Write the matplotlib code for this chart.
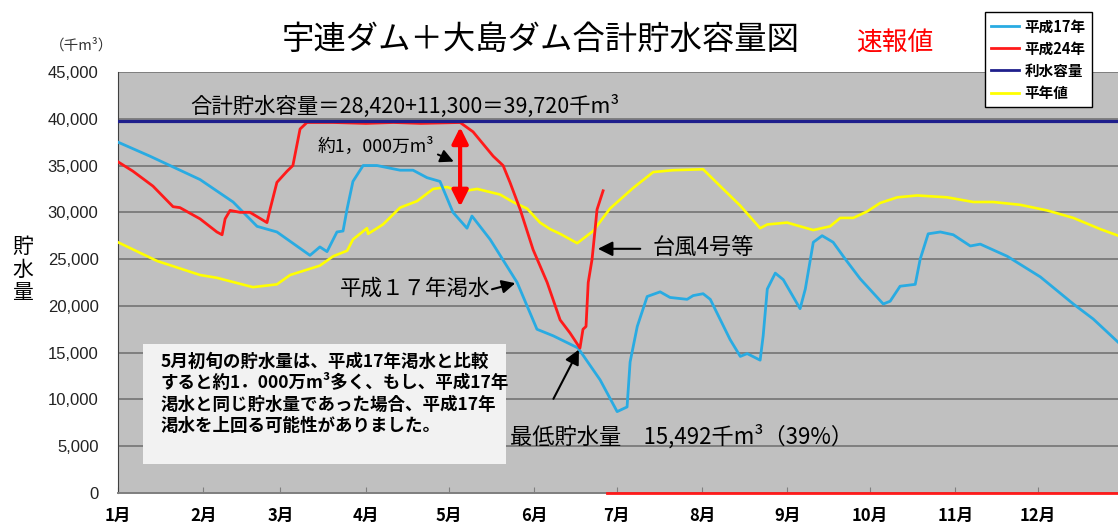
import numpy as np
import matplotlib
matplotlib.use("Agg")
import matplotlib.pyplot as plt
from matplotlib.lines import Line2D
from matplotlib.patches import Rectangle
from matplotlib.ticker import FuncFormatter

plt.rcParams['font.family'] = ['Noto Sans CJK JP', 'DejaVu Sans']

# ----------------- データ (日: 1月1日=0, 値: 千m3) -----------------
h17_days = [0, 11.6, 29.8, 41.8, 50.5, 57.7, 69.7, 73.3, 75.9, 79.5, 81.7, 83.2, 85.3, 89.0,
            94.0, 102.4, 107.1, 112.2, 116.9, 121.6, 126.7, 128.5, 135.1, 144.9, 152.1, 158.0,
            167.0, 175.0, 181.2, 184.8, 185.9, 188.5, 192.1, 196.8, 200.4, 206.6, 208.8, 212.4,
            215.0, 222.2, 225.9, 228.4, 233.1, 234.2, 235.7, 238.6, 241.5, 247.6, 249.5, 252.4,
            255.6, 259.6, 264.0, 269.4, 277.8, 280.3, 283.9, 289.4, 291.2, 294.1, 298.5, 303.2,
            309.4, 313.0, 322.8, 334.8, 346.8, 354.0, 363.1]
h17_vals = [37.5, 36.0, 33.5, 31.1, 28.5, 27.9, 25.4, 26.3, 25.8, 27.9, 28.0, 30.4, 33.3, 35.0,
            35.0, 34.5, 34.5, 33.7, 33.3, 30.0, 28.3, 29.6, 27.1, 22.5, 17.5, 16.8,
            15.5, 12.1, 8.7, 9.2, 14.0, 17.8, 21.0, 21.5, 20.9, 20.7, 21.1, 21.3,
            20.7, 16.4, 14.6, 14.9, 14.2, 16.8, 21.8, 23.5, 22.8, 19.7, 21.8, 26.8,
            27.5, 26.8, 25.0, 22.9, 20.2, 20.5, 22.1, 22.3, 25.0, 27.7, 27.9, 27.6,
            26.4, 26.6, 25.3, 23.1, 20.2, 18.6, 16.1]

h24_days = [0, 5.4, 12.7, 20.0, 22.5, 29.8, 35.9, 37.8, 38.9, 40.7, 44.3, 47.9, 54.1, 55.2,
            57.7, 61.4, 63.5, 66.1, 68.6, 78.0, 90.0, 100.0, 110.0, 124.2, 128.9, 136.2, 139.8,
            142.3, 146.0, 150.7, 155.8, 160.5, 164.1, 167.7, 168.8, 169.9, 170.7, 172.1, 173.2,
            173.9, 176.1]
h24_vals = [35.4, 34.4, 32.8, 30.6, 30.5, 29.3, 27.9, 27.6, 29.3, 30.2, 30.0, 30.0, 28.9, 30.3,
            33.2, 34.4, 35.0, 38.9, 39.6, 39.6, 39.5, 39.6, 39.5, 39.6, 38.6, 36.0, 35.0,
            33.2, 30.3, 26.0, 22.5, 18.5, 17.1, 15.492, 17.5, 17.8, 22.5, 25.0, 28.2,
            30.3, 32.3]
# 7月以降 (未到来) は 0 表示
h24_zero_days = [177.6, 365]
h24_zero_vals = [0, 0]

avg_days = [0, 14.2, 29.8, 35.9, 49.0, 57.7, 62.5, 73.3, 78.1, 83.2, 85.3, 90.4, 90.8, 96.2,
            102.4, 108.6, 114.4, 119.5, 124.2, 130.4, 138.7, 143.4, 148.5, 153.2, 156.9, 160.5,
            166.7, 172.5, 178.6, 187.0, 194.3, 201.5, 212.4, 218.6, 225.9, 233.1, 235.7, 242.9,
            247.6, 252.4, 258.5, 262.2, 266.9, 272.0, 276.7, 282.9, 290.1, 301.0, 310.5, 317.7,
            327.5, 337.3, 346.8, 356.6, 363.1]
avg_vals = [26.8, 24.8, 23.3, 23.0, 22.0, 22.3, 23.3, 24.3, 25.3, 25.9, 27.1, 28.3, 27.7, 28.7,
            30.5, 31.2, 32.5, 32.7, 32.2, 32.5, 31.9, 31.1, 30.4, 28.9, 28.2, 27.7,
            26.7, 28.0, 30.4, 32.6, 34.3, 34.5, 34.6, 32.8, 30.7, 28.3, 28.7, 28.9,
            28.5, 28.1, 28.5, 29.4, 29.4, 30.1, 31.0, 31.6, 31.8, 31.6, 31.1, 31.1,
            30.8, 30.2, 29.4, 28.2, 27.5]

capacity = 39720
month_starts = [0, 31, 59, 90, 120, 151, 181, 212, 243, 273, 304, 334]
month_labels = ["1月", "2月", "3月", "4月", "5月", "6月", "7月", "8月", "9月", "10月", "11月", "12月"]

C_H17 = "#29ABE2"
C_H24 = "#FF1A1A"
C_CAP = "#1F1F8C"
C_AVG = "#FFFF00"

fig = plt.figure(figsize=(11.18, 5.29), dpi=100)
ax = fig.add_axes([0.1055, 0.068, 0.8945, 0.796])
ax.set_facecolor("#C0C0C0")

ax.plot(avg_days, np.array(avg_vals) * 1000, color=C_AVG, lw=1.9, zorder=3)
ax.plot(h17_days, np.array(h17_vals) * 1000, color=C_H17, lw=2.0, zorder=4)
ax.plot(h24_days, np.array(h24_vals) * 1000, color=C_H24, lw=2.0, zorder=5)
ax.plot(h24_zero_days, h24_zero_vals, color=C_H24, lw=2.0, zorder=5, clip_on=False)
ax.axhline(capacity, color=C_CAP, lw=2.3, zorder=6)

ax.set_xlim(0, 363)
ax.set_ylim(0, 45000)
ax.set_yticks(np.arange(0, 45001, 5000))
ax.yaxis.set_major_formatter(FuncFormatter(lambda v, p: f"{int(v):,}"))
ax.set_xticks(month_starts)
ax.set_xticklabels(month_labels, fontsize=12, fontweight="bold")
ax.grid(axis="y", color="#7F7F7F", lw=1.4, zorder=1)
ax.set_axisbelow(True)
ax.tick_params(axis="y", length=0, pad=14, labelsize=12, colors="#222222")
ax.tick_params(axis="x", direction="in", length=4, color="#7F7F7F", pad=10)
for lbl in ax.get_yticklabels():
    lbl.set_fontfamily(["Liberation Sans", "DejaVu Sans"])
for s in ["top", "right"]:
    ax.spines[s].set_visible(False)
ax.spines["left"].set_color("#404040")
ax.spines["bottom"].set_color("#7F7F7F")
ax.spines["bottom"].set_linewidth(1.4)

# ----------------- タイトル・軸ラベル -----------------
fig.text(0.484, 0.925, "宇連ダム＋大島ダム合計貯水容量図", ha="center", va="center", fontsize=23.3)
fig.text(0.800, 0.920, "速報値", ha="center", va="center", fontsize=18.5, color="#FF0000")
fig.text(0.073, 0.915, "（千m³）", ha="center", va="center", fontsize=10.5, color="#333333")
fig.text(0.020, 0.490, "貯\n水\n量", ha="center", va="center", fontsize=15, linespacing=1.05)

# ----------------- 注記 -----------------
ax.text(26.1, 41300, "合計貯水容量＝28,420+11,300＝39,720千m³", ha="left", va="center",
        fontsize=15.4, zorder=7)
ax.annotate("", xy=(124.2, 39400), xytext=(124.2, 30300),
            arrowprops=dict(arrowstyle="<|-|>", color="#FF0000", lw=3,
                            mutation_scale=24), zorder=8)
ax.text(72.6, 37000, "約1，000万m³", ha="left", va="center", fontsize=12.8, zorder=7)
ax.annotate("", xy=(122.8, 35300), xytext=(115.2, 36300),
            arrowprops=dict(arrowstyle="-|>", color="black", lw=1.4, mutation_scale=20))
ax.text(80.6, 21800, "平成１７年渇水", ha="left", va="center", fontsize=15.5, zorder=7)
ax.annotate("", xy=(145.2, 22500), xytext=(134.8, 21700),
            arrowprops=dict(arrowstyle="-|>", color="black", lw=1.5, mutation_scale=20))
ax.text(193.9, 26100, "台風4号等", ha="left", va="center", fontsize=16, zorder=7)
ax.annotate("", xy=(173.2, 26100), xytext=(190.6, 26100),
            arrowprops=dict(arrowstyle="-|>", color="black", lw=1.5, mutation_scale=22))
ax.text(142.3, 6000, "最低貯水量　15,492千m³（39%）", ha="left", va="center", fontsize=16, zorder=7)
ax.annotate("", xy=(167.8, 15600), xytext=(157.6, 9800),
            arrowprops=dict(arrowstyle="-|>", color="black", lw=1.5, mutation_scale=22))

ax.add_patch(Rectangle((9.1, 3140), 131.8, 12760, facecolor="#F2F2F2", edgecolor="none", zorder=7))
ax.text(15.3, 10600,
        "5月初旬の貯水量は、平成17年渇水と比較\n"
        "すると約1．000万m³多く、もし、平成17年\n"
        "渇水と同じ貯水量であった場合、平成17年\n"
        "渇水を上回る可能性がありました。",
        ha="left", va="center", fontsize=12.6, fontweight="bold", linespacing=1.25, zorder=8)

# ----------------- 凡例 -----------------
handles = [Line2D([], [], color=C_H17, lw=2), Line2D([], [], color=C_H24, lw=2),
           Line2D([], [], color=C_CAP, lw=2), Line2D([], [], color=C_AVG, lw=2)]
leg = fig.legend(handles, ["平成17年", "平成24年", "利水容量", "平年値"],
                 loc="upper right", bbox_to_anchor=(0.981, 0.986), fontsize=10.5,
                 frameon=True, fancybox=False, edgecolor="black", framealpha=1,
                 handlelength=1.9, handletextpad=0.4, labelspacing=0.42, borderpad=0.45,
                 borderaxespad=0.3)
leg.get_frame().set_linewidth(1.0)
leg.set_zorder(20)
for t in leg.get_texts():
    t.set_fontweight("bold")

fig.savefig("out.png", dpi=100)
